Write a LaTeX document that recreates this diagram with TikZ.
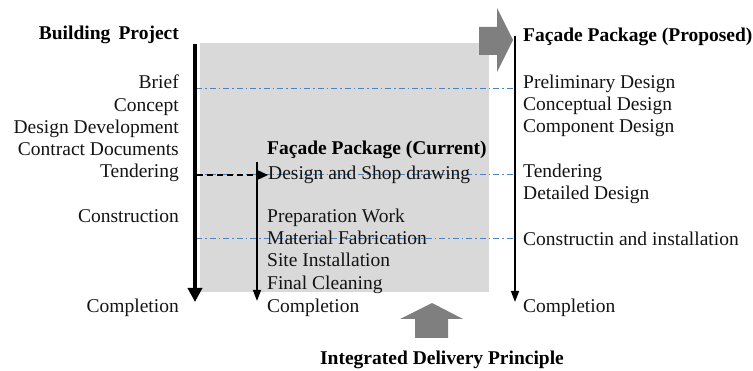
\documentclass[tikz,border=0pt]{standalone}
\usepackage{fontspec}
\setmainfont{Liberation Serif}
\usetikzlibrary{arrows.meta}
\definecolor{boxgray}{HTML}{D9D9D9}
\definecolor{blockgray}{HTML}{7F7F7F}
\definecolor{lineblue}{HTML}{4F81BD}
\begin{document}
\begin{tikzpicture}[x=1pt,y=-1pt,
  lbl/.style={font=\fontsize{19.5}{22}\selectfont, inner sep=0pt, text=black!92},
  ttl/.style={font=\fontsize{19.5}{22}\selectfont\bfseries, inner sep=0pt, text=black},
  lefttxt/.style={lbl, anchor=base east},
  righttxt/.style={lbl, anchor=base west},
  phase/.style={lineblue, line width=1pt, dash pattern=on 6pt off 3pt on 1.5pt off 3pt},
  mainarrow/.style={line width=4pt, -{Triangle[width=14pt,length=14pt]}},
  thinarrow/.style={line width=1.5pt, -{Triangle[width=8pt,length=11pt]}},
  blockarrow/.style={fill=blockgray, draw=none}
]
\useasboundingbox (0,0) rectangle (753,371);

% shaded area
\fill[boxgray] (200,43) rectangle (489,292);

% block arrows
\fill[blockarrow] (479,27) -- (497,27) -- (497,8) -- (513,40) -- (497,72) -- (497,55) -- (479,55) -- cycle;
\fill[blockarrow] (415,338) -- (415,319) -- (400,319) -- (432,303) -- (463,319) -- (448,319) -- (448,338) -- cycle;

% coordinates
\coordinate (l0) at (195,44);
\coordinate (l1) at (195,302);
\coordinate (m0) at (257,162);
\coordinate (m1) at (257,301);
\coordinate (r0) at (515,36);
\coordinate (r1) at (515,302);
\coordinate (pa) at (196,89);
\coordinate (pb) at (514,89);
\coordinate (pc) at (196,175);
\coordinate (pd) at (514,175);
\coordinate (pe) at (196,239);
\coordinate (pf) at (514,239);
\coordinate (t0) at (197,175);
\coordinate (t1) at (268,175);

% phase lines
\draw[phase] (pa) -- (pb);
\draw[phase] (pc) -- (pd);
\draw[phase] (pe) -- (pf);

% left column
\node[ttl, anchor=base east] (bp) at (179,40) {Building\, Project};
\node[lefttxt] (brief) at (179,89) {Brief};
\node[lefttxt] (concept) at (179,111.5) {Concept};
\node[lefttxt] (dd) at (179,133.5) {Design Development};
\node[lefttxt] (cd) at (179,156) {Contract Documents};
\node[lefttxt] (tend) at (179,178) {Tendering};
\node[lefttxt] (constr) at (179,223) {Construction};
\node[lefttxt] (compl) at (179,313) {Completion};

% middle column
\node[ttl, anchor=base west] (fpc) at (267,155) {Façade Package (Current)};
\node[righttxt] (dsd) at (268,180) {Design and Shop drawing};
\node[righttxt] (prep) at (267,223) {Preparation Work};
\node[righttxt] (mat) at (267,245) {Material Fabrication};
\node[righttxt] (site) at (267,267) {Site Installation};
\node[righttxt] (fin) at (267,290) {Final Cleaning};
\node[righttxt] (mcompl) at (267,313) {Completion};

% right column
\node[ttl, anchor=base west] (fpp) at (523,42) {Façade Package (Proposed)};
\node[righttxt] (pre) at (523,89) {Preliminary Design};
\node[righttxt] (con) at (523,111) {Conceptual Design};
\node[righttxt] (com) at (523,133) {Component Design};
\node[righttxt] (rtend) at (523,178) {Tendering};
\node[righttxt] (det) at (523,200) {Detailed Design};
\node[righttxt] (inst) at (523,246) {Constructin and installation};
\node[righttxt] (rcompl) at (523,313) {Completion};

% bottom title
\node[ttl, anchor=base] (idp) at (442,365) {Integrated Delivery Principle};

% arrows
\draw[mainarrow] (l0) -- (l1);
\draw[thinarrow] (m0) -- (m1);
\draw[thinarrow] (r0) -- (r1);
\draw[line width=1.5pt, dash pattern=on 6pt off 4pt, -{Triangle[width=9pt,length=10pt]}] (t0) -- (t1);
\end{tikzpicture}
\end{document}
